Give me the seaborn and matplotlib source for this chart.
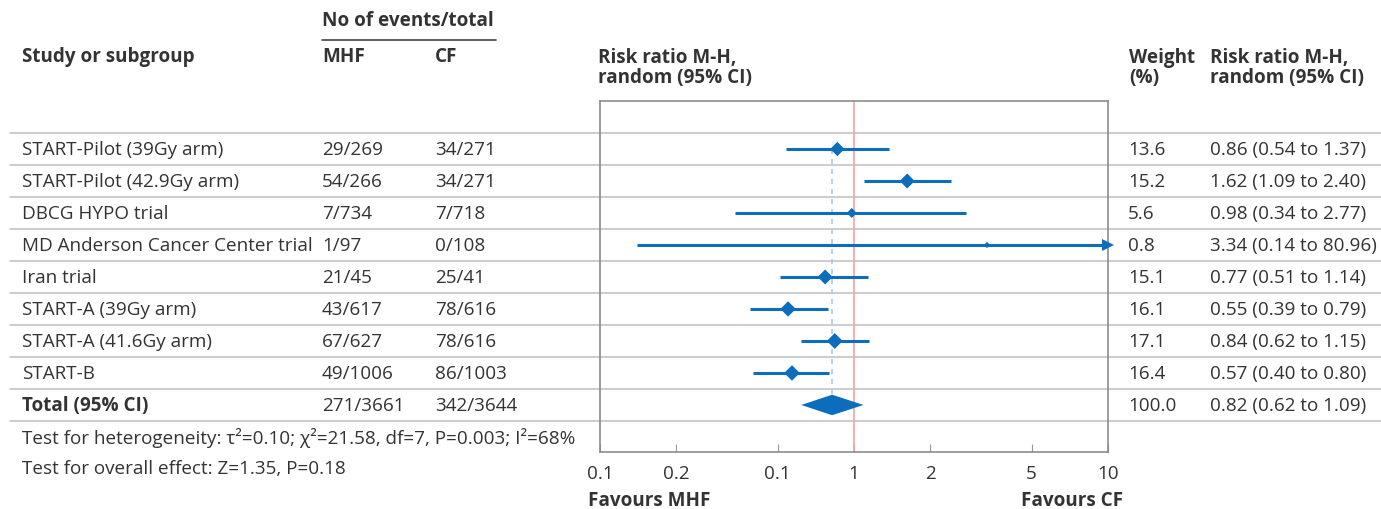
import numpy as np
import pandas as pd
import matplotlib
matplotlib.use("Agg")
import matplotlib.pyplot as plt
import seaborn as sns

# data
studies = ["START-Pilot (39Gy arm)", "START-Pilot (42.9Gy arm)", "DBCG HYPO trial",
           "MD Anderson Cancer Center trial", "Iran trial", "START-A (39Gy arm)",
           "START-A (41.6Gy arm)", "START-B"]
mhf = ["29/269", "54/266", "7/734", "1/97", "21/45", "43/617", "67/627", "49/1006"]
cf = ["34/271", "34/271", "7/718", "0/108", "25/41", "78/616", "78/616", "86/1003"]
weight = [13.6, 15.2, 5.6, 0.8, 15.1, 16.1, 17.1, 16.4]
rr = [0.86, 1.62, 0.98, 3.34, 0.77, 0.55, 0.84, 0.57]
lo = [0.54, 1.09, 0.34, 0.14, 0.51, 0.39, 0.62, 0.40]
hi = [1.37, 2.40, 2.77, 80.96, 1.14, 0.79, 1.15, 0.80]
total_mhf = "271/3661"
total_cf = "342/3644"
total_weight = 100.0
total_rr, total_lo, total_hi = 0.82, 0.62, 1.09
tick_vals = [0.1, 0.2, 0.5, 1, 2, 5, 10]
tick_labels = ["0.1", "0.2", "0.1", "1", "2", "5", "10"]

sns.set_style("white")
plt.rcParams['font.family'] = ['Open Sans', 'DejaVu Sans']
txt = "#333333"
blue = "#0b6dbb"
fs = 13.6

df = pd.DataFrame({"study": studies, "rr": rr, "lo": lo, "hi": hi,
                   "weight": weight, "row": np.arange(len(studies))})

fig = plt.figure(figsize=(13.81, 5.10), dpi=100)

# overlay axes in pixel coordinates for the table
bg = fig.add_axes([0, 0, 1, 1])
bg.set_xlim(0, 1381)
bg.set_ylim(510, 0)
bg.axis("off")

def row_y(i):
    return 150 + 32 * i

# horizontal separators
for i in range(10):
    y = 134 + 32 * i
    bg.plot([10, 1381], [y, y], color="#c4c4c4", lw=1.2, zorder=0)

# headers
bg.text(322, 21, "No of events/total", fontsize=fs, fontweight="bold", color=txt, va="center")
bg.plot([322, 496], [41, 41], color="#444444", lw=1.2)
bg.text(22, 57, "Study or subgroup", fontsize=fs, fontweight="bold", color=txt, va="center")
bg.text(322, 57, "MHF", fontsize=fs, fontweight="bold", color=txt, va="center")
bg.text(435, 57, "CF", fontsize=fs, fontweight="bold", color=txt, va="center")
bg.text(598, 68, "Risk ratio M-H,\nrandom (95% CI)", fontsize=fs, fontweight="bold",
        color=txt, va="center", linespacing=1.0)
bg.text(1129, 68, "Weight\n(%)", fontsize=fs, fontweight="bold", color=txt,
        va="center", linespacing=1.0)
bg.text(1210, 68, "Risk ratio M-H,\nrandom (95% CI)", fontsize=fs, fontweight="bold",
        color=txt, va="center", linespacing=1.0)

# rows
for i in range(len(studies)):
    y = row_y(i)
    bg.text(22, y, studies[i], fontsize=fs, color=txt, va="center")
    bg.text(322, y, mhf[i], fontsize=fs, color=txt, va="center")
    bg.text(435, y, cf[i], fontsize=fs, color=txt, va="center")
    bg.text(1128, y, f"{weight[i]:.1f}", fontsize=fs, color=txt, va="center")
    bg.text(1210, y, f"{rr[i]:.2f} ({lo[i]:.2f} to {hi[i]:.2f})", fontsize=fs, color=txt, va="center")

yt = row_y(8)
bg.text(22, yt, "Total (95% CI)", fontsize=fs, fontweight="bold", color=txt, va="center")
bg.text(322, yt, total_mhf, fontsize=fs, color=txt, va="center")
bg.text(435, yt, total_cf, fontsize=fs, color=txt, va="center")
bg.text(1128, yt, f"{total_weight:.1f}", fontsize=fs, color=txt, va="center")
bg.text(1210, yt, f"{total_rr:.2f} ({total_lo:.2f} to {total_hi:.2f})", fontsize=fs, color=txt, va="center")

bg.text(22, 438, "Test for heterogeneity: τ²=0.10; χ²=21.58, df=7, P=0.003; I²=68%",
        fontsize=fs, color=txt, va="center")
bg.text(22, 469, "Test for overall effect: Z=1.35, P=0.18", fontsize=fs, color=txt, va="center")
bg.text(588, 501, "Favours MHF", fontsize=fs, fontweight="bold", color=txt, va="center")
bg.text(1123, 501, "Favours CF", fontsize=fs, fontweight="bold", color=txt, va="center", ha="right")

# forest axes
ax = fig.add_axes([600 / 1381, (510 - 453) / 510, 508 / 1381, (453 - 102) / 510])
ax.set_facecolor("none")
ax.set_xscale("log")
ax.set_xlim(0.1, 10)
ax.set_ylim(9.47, -1.5)

ax.axvline(1, color="#f4a3a3", lw=1.2, zorder=1)
ax.plot([total_rr, total_rr], [0, 8], color="#a9cbea", lw=1.2, ls=(0, (3, 3)), zorder=1)

for i in range(len(studies)):
    right = min(hi[i], 10)
    ax.plot([lo[i], right], [i, i], color=blue, lw=2.2, zorder=2, solid_capstyle="butt")
    if hi[i] > 10:
        ax.plot([10], [i], marker=">", ms=8, color=blue, mew=0, clip_on=False, zorder=3)

sns.scatterplot(data=df, x="rr", y="row", size="weight", sizes=(10, 65), marker="D",
                color=blue, edgecolor=blue, linewidth=0, legend=False, ax=ax, zorder=3)

ax.fill([total_lo, total_rr, total_hi, total_rr], [8, 7.68, 8, 8.32], color=blue, lw=0, zorder=3)

ax.set_xticks(tick_vals)
ax.set_xticklabels(tick_labels, fontsize=fs, color=txt)
ax.xaxis.set_minor_locator(matplotlib.ticker.NullLocator())
ax.tick_params(axis="x", direction="in", length=6, color="#999999", pad=9, bottom=True)
ax.set_yticks([])
ax.set_xlabel("")
ax.set_ylabel("")
for s in ax.spines.values():
    s.set_color("#8c8c8c")
    s.set_linewidth(1.2)

fig.savefig("out.png", dpi=100)
